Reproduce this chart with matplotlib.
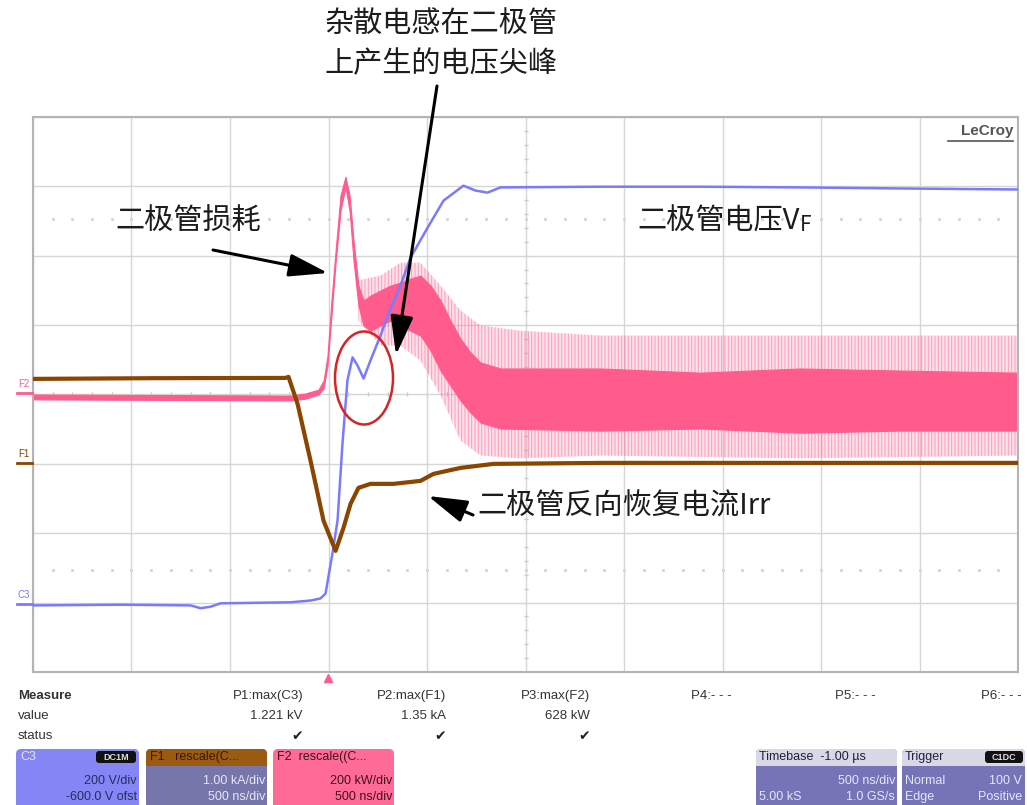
import matplotlib
matplotlib.use("Agg")
import matplotlib.pyplot as plt
import numpy as np
from matplotlib.patches import FancyBboxPatch, Ellipse, Rectangle

plt.rcParams["font.family"] = ["Liberation Sans", "Noto Sans CJK SC", "DejaVu Sans"]
plt.rcParams["hatch.linewidth"] = 0.8

# time in ns relative to trigger, 500 ns/div, 10 div on screen
t_start, t_end = -1500, 3500

# C3: diode voltage (V), 200 V/div, -600 V offset
c3_t = [-1500, -1056, -700, -650, -600, -548, -193, -91, -41, -15, 20, 46, 71, 96, 122, 147, 178,
        213, 264, 305, 365, 416, 503, 584, 685, 746, 807, 873, 1381, 1888, 2396, 2904, 3500]
c3_v = [-8, -6, -8, -16, -12, -2, 1, 6, 12, 26, 142, 237, 459, 640, 707, 684, 646,
        698, 770, 833, 914, 994, 1081, 1159, 1202, 1188, 1182, 1197, 1199, 1199, 1197, 1194, 1191]

# F1: diode current (A), 1 kA/div
f1_t = [-1500, -904, -218, -203, -157, -91, -25, 36, 76, 112, 152, 213, 330, 467, 533, 670, 838, 1381, 3500]
f1_i = [1225, 1235, 1239, 1254, 865, 43, -821, -1254, -922, -576, -346, -288, -288, -245, -144, -58, 0, 14, 14]

# F2: diode power (kW), 200 kW/div -- dense band and spike envelope
f2_t = [-1500, -193, -117, -51, -25, -5, 15, 36, 61, 86, 107, 127, 152, 178, 213, 264, 315, 365, 416,
        467, 518, 569, 619, 670, 721, 772, 873, 1381, 1888, 2396, 2904, 3500]
f2_hi = [0, -3, 3, 14, 40, 112, 271, 415, 574, 628, 574, 444, 314, 271, 285, 300, 314, 323, 334,
         343, 314, 271, 213, 161, 121, 92, 75, 75, 63, 75, 69, 63]
f2_lo = [-14, -17, -12, 0, 17, 84, 228, 380, 530, 599, 530, 386, 256, 199, 184, 199, 213, 199, 184,
         170, 127, 69, 26, -17, -52, -81, -98, -104, -98, -110, -104, -104]
spk_t = [152, 264, 365, 467, 569, 670, 772, 975, 1381, 2396, 3500]
spk_hi = [329, 343, 380, 380, 314, 242, 199, 184, 170, 170, 170]
spk_lo = [213, 141, 141, 98, -3, -133, -176, -184, -176, -184, -176]

meas_names = ["P1:max(C3)", "P2:max(F1)", "P3:max(F2)", "P4:- - -", "P5:- - -", "P6:- - -"]
meas_values = ["1.221 kV", "1.35 kA", "628 kW", "", "", ""]
meas_ok = [True, True, True, False, False, False]

BLUE = "#7a7aff"
BROWN = "#8a4500"
PINK = "#ff5c8d"
CJK = ["Noto Sans CJK SC", "DejaVu Sans"]


def c3_div(v):
    return (np.asarray(v, dtype=float) - 600) / 200


def f1_div(i):
    return np.asarray(i, dtype=float) / 1000 - 1.0


def f2_div(p):
    return np.asarray(p, dtype=float) / 200


fig = plt.figure(figsize=(10.27, 8.05), dpi=100)
W, H = 1027, 805
ax = fig.add_axes([33 / W, 1 - 672 / H, 985 / W, 555 / H])
ax.set_xlim(t_start, t_end)
ax.set_ylim(-4, 4)
ax.set_xticks(np.arange(t_start, t_end + 1, 500))
ax.set_yticks(np.arange(-4, 5, 1))
ax.grid(True, color="#d6d6d6", linewidth=1.0)
ax.tick_params(length=0, labelbottom=False, labelleft=False)
for s in ax.spines.values():
    s.set_color("#b4b4b4")
    s.set_linewidth(1.5)

# centre graticule ticks and dotted references
xt = np.arange(t_start, t_end, 100)
ax.plot(xt, np.zeros_like(xt), ls="none", marker="|", ms=3.5, color="#c0c0c0", zorder=1)
yt = np.arange(-4, 4, 0.2)
ax.plot(np.full_like(yt, 1000), yt, ls="none", marker="_", ms=3.5, color="#c0c0c0", zorder=1)
xd = np.arange(t_start + 100, t_end, 100)
for lvl in (2.53, -2.53):
    ax.plot(xd, np.full_like(xd, lvl, dtype=float), ls="none", marker="s", ms=1.1, color="#d4d4d4", zorder=1)

# traces
ax.fill_between(spk_t, f2_div(spk_lo), f2_div(spk_hi), facecolor=(1, 0.36, 0.55, 0.16),
                edgecolor=(1, 0.40, 0.60, 0.55), hatch="|||||", linewidth=0, zorder=2)
ax.fill_between(f2_t, f2_div(f2_lo), f2_div(f2_hi), color=PINK, linewidth=0.8, zorder=2.5)
ax.plot(c3_t, c3_div(c3_v), color=BLUE, lw=1.8, zorder=3)
ax.plot(f1_t, f1_div(f1_i), color=BROWN, lw=3.0, zorder=4)

# overlay in pixel coordinates for annotations and the status bar
ov = fig.add_axes([0, 0, 1, 1], zorder=5)
ov.set_xlim(0, W)
ov.set_ylim(H, 0)
ov.axis("off")

ov.add_patch(Ellipse((364, 378), 58, 93, fill=False, edgecolor="#d42424", lw=1.8))

txt = dict(family=CJK, fontsize=21, color="#1c1c1c", va="center", fontweight="medium")
ov.text(441, 24, "杂散电感在二极管", ha="center", **txt)
ov.text(441, 64, "上产生的电压尖峰", ha="center", **txt)
ov.text(188, 222, "二极管损耗", ha="center", **txt)
ov.text(637, 222, "二极管电压V", ha="left", **txt)
ov.text(800, 225, "F", ha="left", family=CJK, fontsize=15, color="#1c1c1c", va="center",
        fontweight="medium")
ov.text(477, 507, "二极管反向恢复电流Irr", ha="left", **txt)

arrow = dict(arrowstyle="-|>,head_length=1.2,head_width=0.35", color="black", lw=2.2,
             mutation_scale=20, shrinkA=0, shrinkB=0)
ov.annotate("", xy=(396, 355), xytext=(437, 86), arrowprops=arrow)
ov.annotate("", xy=(328, 273), xytext=(213, 250), arrowprops=arrow)
ov.annotate("", xy=(428, 496), xytext=(473, 515), arrowprops=arrow)

# LeCroy logo
ov.text(1013, 131, "LeCroy", ha="right", va="center", fontsize=11, color="#555555", fontweight="bold")
ov.plot([948, 1013], [141, 141], color="#555555", lw=1.2)

# channel ground markers and trigger marker
for lbl, y, c in (("F2", 393, PINK), ("F1", 463, BROWN), ("C3", 604, BLUE)):
    ov.text(18, y - 9, lbl, fontsize=7, color=c, va="center", ha="left")
    ov.plot([17, 32], [y, y], color=c, lw=2)
ov.plot([328], [678], marker="^", ms=6, color=PINK, ls="none")

# measurement table
mtxt = dict(fontsize=9.5, color="#333333", va="center")
ov.text(18, 696, "Measure", fontweight="bold", **mtxt)
ov.text(18, 716, "value", **mtxt)
ov.text(18, 736, "status", **mtxt)
meas_right = [303, 446, 590, 732, 876, 1022]
for xr, name, val, ok in zip(meas_right, meas_names, meas_values, meas_ok):
    ov.text(xr, 696, name, ha="right", **mtxt)
    if val:
        ov.text(xr, 716, val, ha="right", **mtxt)
    if ok:
        ov.text(xr, 736, "✔", ha="right", fontsize=10, family=["DejaVu Sans"], color="#222222", va="center")


def box(x0, x1, body, head=None):
    ov.add_patch(FancyBboxPatch((x0, 749), x1 - x0, 60, boxstyle="round,pad=0,rounding_size=5",
                                facecolor=body, edgecolor="none"))
    if head is not None:
        ov.add_patch(FancyBboxPatch((x0, 749), x1 - x0, 17, boxstyle="round,pad=0,rounding_size=5",
                                    facecolor=head, edgecolor="none"))
        ov.add_patch(Rectangle((x0, 758), x1 - x0, 8, facecolor=head, edgecolor="none"))


def badge(x0, x1, label):
    ov.add_patch(FancyBboxPatch((x0, 751), x1 - x0, 12, boxstyle="round,pad=0,rounding_size=3",
                                facecolor="#111111", edgecolor="none"))
    ov.text((x0 + x1) / 2, 757.5, label, ha="center", va="center", fontsize=6.5, color="#dddddd",
            fontweight="bold")


bt = dict(fontsize=9, va="center")
box(16, 139, "#8585f6")
ov.text(20, 757, "C3", color="#e4e4ff", **bt)
badge(96, 136, "DC1M")
ov.text(137, 781, "200 V/div", ha="right", color="#2a2a5a", **bt)
ov.text(137, 797, "-600.0 V ofst", ha="right", color="#2a2a5a", **bt)

box(146, 267, "#7676aa", head="#9b5a12")
ov.text(150, 757, "F1   rescale(C...", color="#3a1800", **bt)
ov.text(265, 781, "1.00 kA/div", ha="right", color="#e6e6ff", **bt)
ov.text(265, 797, "500 ns/div", ha="right", color="#e6e6ff", **bt)

box(273, 394, "#ff6b96")
ov.text(277, 757, "F2  rescale((C...", color="#40101e", **bt)
ov.text(392, 781, "200 kW/div", ha="right", color="#40101e", **bt)
ov.text(392, 797, "500 ns/div", ha="right", color="#40101e", **bt)

box(756, 897, "#7474b6", head="#d8d8e6")
ov.text(759, 757, "Timebase  -1.00 µs", color="#202040", **bt)
ov.text(895, 781, "500 ns/div", ha="right", color="#e6e6ff", **bt)
ov.text(759, 797, "5.00 kS", ha="left", color="#e6e6ff", **bt)
ov.text(895, 797, "1.0 GS/s", ha="right", color="#e6e6ff", **bt)

box(902, 1025, "#7474b6", head="#d8d8e6")
ov.text(905, 757, "Trigger", color="#202040", **bt)
badge(985, 1023, "C1DC")
ov.text(905, 781, "Normal", ha="left", color="#e6e6ff", **bt)
ov.text(1022, 781, "100 V", ha="right", color="#e6e6ff", **bt)
ov.text(905, 797, "Edge", ha="left", color="#e6e6ff", **bt)
ov.text(1022, 797, "Positive", ha="right", color="#e6e6ff", **bt)

fig.savefig("out.png", dpi=100, facecolor="white")
plt.close(fig)
